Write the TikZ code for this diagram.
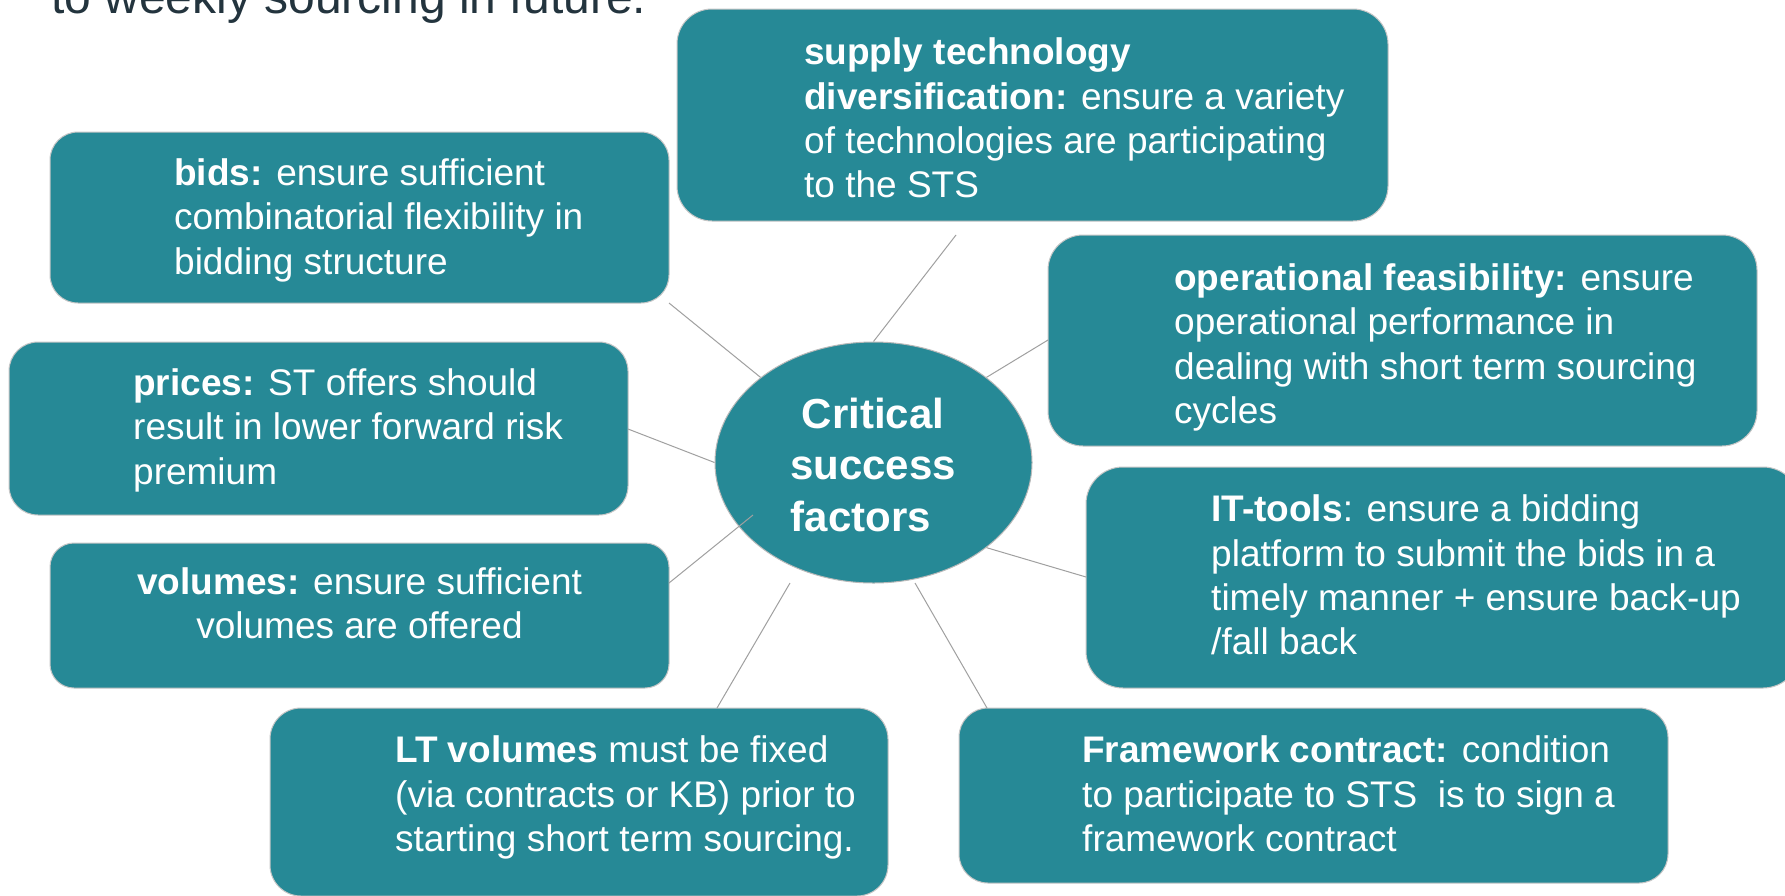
\documentclass[tikz,border=0pt]{standalone}
\usepackage{fontspec}
\setmainfont{Liberation Sans}
\usetikzlibrary{shapes.geometric}
\definecolor{teal1}{RGB}{38,137,150}
\definecolor{darktxt}{RGB}{35,52,62}
\definecolor{linegray}{RGB}{160,160,160}
\newcommand{\mystrut}{\rule{0pt}{34pt}}
\newcommand{\bigstrut}{\rule{0pt}{38pt}}
\begin{document}
\begin{tikzpicture}[x=1pt,y=-1pt,
  box/.style={draw=gray!45, line width=1pt, fill=teal1, inner sep=0pt},
  txt/.style={text=white, inner sep=0pt, anchor=north west, align=left,
    font=\fontsize{37}{44.4}\selectfont},
  conn/.style={draw=linegray, line width=1pt}]
\fill[white] (0,0) rectangle (1785,895);
\useasboundingbox (0,0) rectangle (1785,895);
\clip (0,0) rectangle (1785,895);

% top text
\node[anchor=base west, inner sep=0pt, text=darktxt, font=\fontsize{48}{56}\selectfont] (top) at (51,13) {to weekly sourcing in future.};

% boxes
\node[box, minimum width=711pt, minimum height=212pt, rounded corners=35pt] (supply) at (1032.5,115) {};
\node[box, minimum width=619pt, minimum height=171pt, rounded corners=28pt] (bids) at (359.5,217.5) {};
\node[box, minimum width=619pt, minimum height=173pt, rounded corners=29pt] (prices) at (318.5,428.5) {};
\node[box, minimum width=619pt, minimum height=145pt, rounded corners=24pt] (volumes) at (359.5,615.5) {};
\node[box, minimum width=709pt, minimum height=211pt, rounded corners=35pt] (oper) at (1402.5,340.5) {};
\node[box, minimum width=714pt, minimum height=221pt, rounded corners=37pt] (it) at (1443,577.5) {};
\node[box, minimum width=618pt, minimum height=188pt, rounded corners=31pt] (lt) at (579,802) {};
\node[box, minimum width=709pt, minimum height=175pt, rounded corners=29pt] (frame) at (1313.5,795.5) {};

% central ellipse
\node[ellipse, draw=gray!55, line width=1pt, fill=teal1, minimum width=317pt, minimum height=241pt, inner sep=0pt] (csf) at (873.5,462.5) {};
\node[text=white, inner sep=0pt, anchor=north, align=center, font=\fontsize{42}{51.5}\selectfont\bfseries] (csftxt) at (873,390) {\bigstrut Critical\\success\\factors\hspace*{24pt}};

% texts
\node[txt] (supplyt) at (804,30.5) {\mystrut\textbf{supply technology}\\\textbf{diversification:} ensure a variety\\of technologies are participating\\to the STS};
\node[txt] (bidst) at (174,151) {\mystrut\textbf{bids:} ensure sufficient\\combinatorial flexibility in\\bidding structure};
\node[txt] (pricest) at (133,361) {\mystrut\textbf{prices:} ST offers should\\result in lower forward risk\\premium};
\node[txt, anchor=north, align=center] (volumest) at (359.5,560) {\mystrut\textbf{volumes:} ensure sufficient\\volumes are offered};
\node[txt] (ltt) at (395,728.5) {\mystrut\textbf{LT volumes} must be fixed\\(via contracts or KB) prior to\\starting short term sourcing.};
\node[txt] (framet) at (1082,728.5) {\mystrut\textbf{Framework contract:} condition\\to participate to STS\ \ is to sign a\\framework contract};
\node[txt] (itt) at (1211,487.5) {\mystrut\textbf{IT-tools}: ensure a bidding\\platform to submit the bids in a\\timely manner + ensure back-up\\/fall back};
\node[txt] (opert) at (1174,256) {\mystrut\textbf{operational feasibility:} ensure\\operational performance in\\dealing with short term sourcing\\cycles};

% connector end points
\coordinate (cS) at (956,235);
\coordinate (cB) at (669,303);
\coordinate (cP) at (628,429);
\coordinate (cV) at (669,583);
\coordinate (cVe) at (753,515);
\coordinate (cL) at (717,708);
\coordinate (cLe) at (790,583);
\coordinate (cF) at (987,708);
\coordinate (cFe) at (915,583);
\coordinate (cI) at (1086,577);
\coordinate (cO) at (1048,340);

% connectors
\draw[conn] (cS) -- (csf.90);
\draw[conn] (cB) -- (csf.143);
\draw[conn] (cP) -- (csf.180);
\draw[conn] (cV) -- (cVe);
\draw[conn] (cL) -- (cLe);
\draw[conn] (cF) -- (cFe);
\draw[conn] (cI) -- (csf.-37);
\draw[conn] (cO) -- (csf.37.5);
\end{tikzpicture}
\end{document}
